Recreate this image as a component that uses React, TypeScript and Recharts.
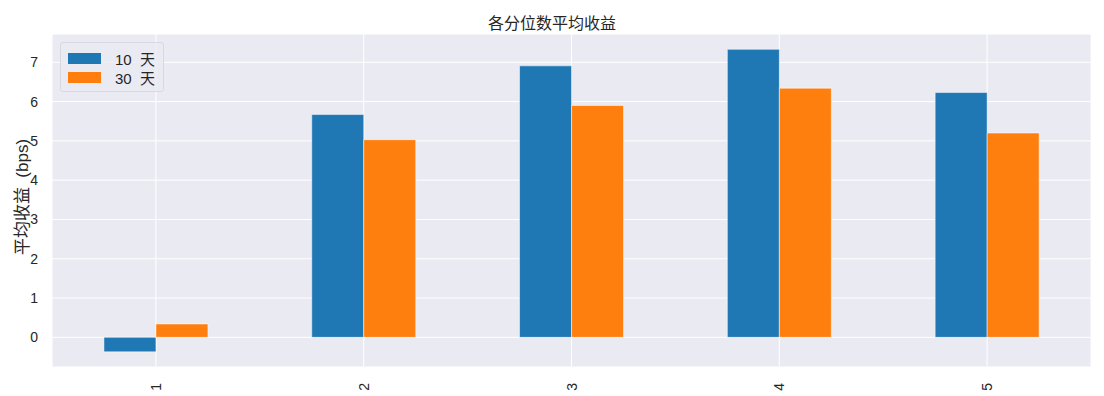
import { Bar, BarChart, CartesianGrid, XAxis, YAxis } from "recharts";

const quantiles = ["1", "2", "3", "4", "5"];
const tenDay = [-0.37, 5.67, 6.91, 7.33, 6.23];
const thirtyDay = [0.34, 5.03, 5.9, 6.34, 5.2];
const yTicks = [0, 1, 2, 3, 4, 5, 6, 7];

const FONT = '"Liberation Sans", Arial, "Noto Sans CJK SC", sans-serif';
const BLUE = "#1f77b4";
const ORANGE = "#ff7f0e";

const data = quantiles.map((q, i) => ({ q, d10: tenDay[i], d30: thirtyDay[i] }));

function RotatedTick({ x, y, payload }: any) {
  return (
    <text
      x={x}
      y={y + 8}
      transform={`rotate(-90, ${x}, ${y + 8})`}
      textAnchor="end"
      dominantBaseline="central"
      fontSize={14}
      fill="#262626"
      fontFamily={FONT}
    >
      {payload.value}
    </text>
  );
}

function LegendBox() {
  const items = [
    { label: "10  天", color: BLUE },
    { label: "30  天", color: ORANGE },
  ];
  return (
    <div
      style={{
        position: "absolute",
        left: 60,
        top: 42,
        width: 104,
        height: 50,
        boxSizing: "border-box",
        border: "1px solid #d8d8e0",
        borderRadius: 3,
        background: "rgba(234,234,242,0.8)",
        paddingTop: 6,
        fontFamily: FONT,
      }}
    >
      {items.map((it) => (
        <div key={it.label} style={{ display: "flex", alignItems: "center", height: 19 }}>
          <span style={{ display: "inline-block", width: 33, height: 11, background: it.color, marginLeft: 7 }} />
          <span style={{ marginLeft: 14, fontSize: 15, color: "#262626", whiteSpace: "pre" }}>{it.label}</span>
        </div>
      ))}
    </div>
  );
}

export default function App() {
  return (
    <div style={{ position: "absolute", left: 0, top: 0, width: 1104, height: 396, background: "#fff" }}>
      <div
        style={{
          position: "absolute",
          left: 0,
          width: 1104,
          top: 10,
          textAlign: "center",
          fontSize: 16,
          color: "#262626",
          fontFamily: FONT,
        }}
      >
        各分位数平均收益
      </div>
      <div
        style={{
          position: "absolute",
          left: 20,
          top: 197,
          transform: "translate(-50%, -50%) rotate(-90deg)",
          fontSize: 17,
          color: "#262626",
          fontFamily: FONT,
          whiteSpace: "pre",
        }}
      >
        平均收益  (bps)
      </div>
      <BarChart
        width={1104}
        height={396}
        data={data}
        margin={{ top: 34, right: 13, bottom: 0, left: 0 }}
        barCategoryGap="25%"
        barGap={0}
      >
        <CartesianGrid fill="#eaeaf2" stroke="#ffffff" strokeWidth={1} />
        <XAxis dataKey="q" axisLine={false} tickLine={false} height={29} interval={0} tick={<RotatedTick />} />
        <YAxis
          type="number"
          domain={[-0.755, 7.72]}
          ticks={yTicks}
          axisLine={false}
          tickLine={false}
          width={52}
          allowDataOverflow
          tick={{ fontSize: 14, fill: "#262626", fontFamily: FONT }}
          tickMargin={8}
        />
        <Bar dataKey="d10" name="10 天" fill={BLUE} stroke="#ffffff" strokeWidth={0.5} isAnimationActive={false} />
        <Bar dataKey="d30" name="30 天" fill={ORANGE} stroke="#ffffff" strokeWidth={0.5} isAnimationActive={false} />
      </BarChart>
      <LegendBox />
    </div>
  );
}
